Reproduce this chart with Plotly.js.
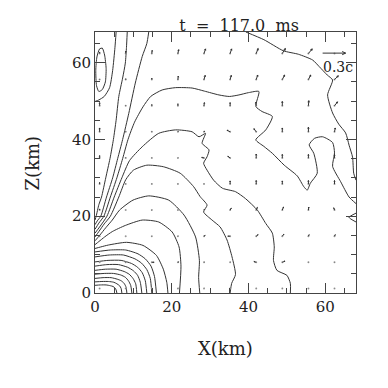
<!DOCTYPE html>
<html>
<head>
<meta charset="utf-8">
<script src="https://cdn.plot.ly/plotly-3.0.1.min.js"></script>
<style>
html, body { margin: 0; padding: 0; background: #fff; }
#chart { width: 388px; height: 388px; }
</style>
</head>
<body>
<div id="chart"></div>
<script>
// contour lines, [x km], [z km]
const arc1 = [[0, 1.4, 2.9, 4.0, 4.7, 5.2, 5.5, 5.7], [2.0, 2.1, 2.1, 1.9, 1.7, 1.3, 0.8, 0]];
const arc2 = [[0, 1.8, 3.5, 4.9, 5.7, 6.4, 6.8, 7.0], [2.9, 3.0, 3.0, 2.8, 2.4, 1.9, 1.2, 0]];
const arc3 = [[0, 2.1, 4.2, 5.8, 6.8, 7.6, 8.1, 8.3], [3.8, 4.0, 4.0, 3.6, 3.2, 2.5, 1.5, 0]];
const arc4 = [[0, 2.4, 4.8, 6.7, 7.9, 8.7, 9.3, 9.6], [4.9, 5.1, 5.1, 4.7, 4.1, 3.2, 2.0, 0]];
const arc5 = [[0, 2.7, 5.5, 7.6, 8.9, 9.9, 10.6, 10.9], [5.9, 6.2, 6.2, 5.6, 4.9, 3.8, 2.4, 0]];
const arc6 = [[0, 3.1, 6.1, 8.5, 10.0, 11.1, 11.8, 12.2], [7.0, 7.4, 7.4, 6.7, 5.8, 4.6, 2.8, 0]];
const arc7 = [[0, 3.4, 6.8, 9.5, 11.1, 12.3, 13.1, 13.5], [8.1, 8.5, 8.5, 7.7, 6.7, 5.3, 3.2, 0]];
const arc8 = [[0, 3.7, 7.4, 10.4, 12.1, 13.5, 14.4, 14.8], [9.4, 9.9, 9.9, 8.9, 7.8, 6.1, 3.8, 0]];
const arc9 = [[0, 4.0, 8.0, 11.2, 13.1, 14.6, 15.5, 16.0], [10.7, 11.2, 11.2, 10.2, 8.9, 7.0, 4.3, 0]];
const arc10 = [[0, 1.5, 3.5, 8.2, 12.5, 16.0, 17.8, 18.7, 19.0], [11.6, 12.0, 12.5, 13.2, 12.4, 9.8, 6.2, 2.8, 0]];
const arc11 = [[0, 1.0, 2.5, 4.5, 7.9, 12.3, 16.6, 20.1, 21.9, 22.4, 22.0],
               [12.6, 13.4, 14.6, 16.0, 17.6, 19.0, 18.5, 15.9, 12.0, 7.0, 0]];
const arc12 = [[0, 1.2, 2.8, 4.5, 6.4, 9.9, 14.0, 19.2, 23.2, 26.2, 27.2, 27.0, 27.3],
               [13.6, 15.0, 17.0, 19.0, 21.6, 24.2, 25.3, 24.2, 20.3, 14.6, 8.5, 4.0, 0]];
const arc13 = [[0, 1.0, 2.4, 4.0, 6.2, 8.0, 10.0, 13.5, 17.8, 22.2, 25.7, 27.4, 29.2, 28.3, 30.5, 32.6, 34.4, 35.7, 36.6, 35.6, 35.2],
               [14.6, 16.0, 18.0, 20.0, 25.0, 29.5, 32.0, 33.3, 32.9, 31.2, 27.7, 25.1, 22.9, 21.1, 19.0, 17.2, 13.8, 9.4, 4.8, 2.5, 0]];
const arc14 = [[0, 1.2, 3.1, 5.0, 7.0, 9.0, 12.3, 16.6, 21.0, 25.3, 27.1, 28.8, 27.9, 29.7, 29.2, 28.3, 29.2, 30.9, 33.2, 36.6, 39.2, 42.3, 44.5, 46.2, 46.7, 46.5, 47.4, 50.0, 50.9, 50.9],
               [15.6, 17.2, 20.0, 25.0, 30.0, 34.5, 38.1, 41.6, 42.5, 42.0, 40.7, 41.6, 39.0, 37.3, 35.5, 33.8, 32.0, 29.4, 27.3, 26.4, 24.6, 21.6, 18.1, 15.6, 12.0, 8.5, 5.9, 4.6, 2.5, 0]];
const plateau = [[0, 1.0, 2.3, 4.0, 5.7, 7.2, 8.6, 10.3, 12.5, 14.5, 17.5, 21.0, 25.3, 28.5, 32.3, 35.0, 37.5, 40.0, 42.7, 41.9, 43.5, 46.2, 44.5, 41.9, 44.0, 46.2, 49.3, 52.7, 54.4, 55.3, 56.1, 57.9, 57.0, 55.8, 57.2, 59.3, 61.9, 62.4, 61.9, 64.0, 66.2, 68.0],
                 [16.6, 18.2, 20.0, 25.0, 30.0, 35.0, 40.0, 44.5, 48.5, 51.2, 52.9, 53.5, 53.4, 52.6, 51.6, 51.2, 51.6, 52.2, 52.5, 48.6, 47.3, 46.0, 42.5, 39.9, 38.2, 36.4, 33.3, 30.5, 27.7, 26.8, 28.6, 31.2, 36.4, 38.6, 40.3, 40.7, 39.2, 36.5, 33.0, 29.0, 25.0, 23.3]];
const top14 = [[0, 0.6, 1.5, 3.0, 4.6, 5.9, 7.2, 8.8, 10.5, 12.3, 13.5, 14.0],
               [17.8, 18.8, 20.0, 25.0, 30.0, 35.0, 40.0, 46.8, 54.7, 61.6, 65.0, 68.0]];
const top8 = [[0, 0.3, 1.0, 1.7, 2.8, 3.9, 4.8, 5.5, 6.2, 7.2, 7.9, 8.2, 8.4],
              [19.0, 20.0, 23.0, 25.0, 30.0, 35.0, 40.0, 45.0, 51.2, 56.0, 59.9, 64.0, 68.0]];
const wrap = [[5.5, 5.2, 4.6, 3.8, 2.4, 1.0, 0], [68.0, 64.0, 58.0, 53.5, 51.2, 50.3, 49.9]];
const loop = [[0.2, 0.5, 1.2, 1.9, 2.5, 2.9, 2.7, 1.9, 1.0, 0.4, 0.2], [58.0, 61.5, 63.6, 63.8, 62.0, 58.5, 55.0, 53.0, 52.5, 54.0, 58.0]];
const outer = [[39.3, 44.0, 49.1, 53.0, 56.7, 58.4, 60.5, 61.9, 60.6, 61.9, 63.5, 65.3, 66.2, 67.1, 67.4, 68.0],
               [68.0, 66.0, 63.1, 62.2, 60.7, 59.0, 56.8, 55.5, 51.6, 46.9, 44.0, 41.7, 38.5, 35.4, 31.2, 29.4]];
const wedge = [[68.0, 66.2, 68.0], [20.8, 19.7, 18.5]];

const contourLines = [arc1, arc2, arc3, arc4, arc5, arc6, arc7, arc8, arc9, arc10, arc11, arc12,
                      arc13, arc14, plateau, top14, top8, wrap, loop, outer, wedge];

// velocity field, grid in km, velocities in units of c, rows from bottom to top
const gridX = [1.2, 8.0, 14.8, 21.6, 28.4, 35.2, 42.0, 48.8, 55.6, 62.4];
const gridZ = [1.2, 8.0, 14.8, 21.6, 28.4, 35.2, 42.0, 48.8, 55.6, 62.4];
const velX = [
    [0.003, 0.003, 0.002, 0.003, 0.002, 0.003, 0.002, 0.003, 0.002, 0.002],
    [0, 0.005, 0.03, 0.01, 0.005, 0.003, -0.03, 0.035, 0.003, 0.003],
    [0, 0, 0.002, 0.003, 0.015, -0.03, 0.025, 0.02, 0.01, 0.01],
    [0, 0, 0.003, 0.003, 0.01, 0.015, 0.015, 0.015, 0.005, -0.01],
    [0, 0, 0, 0, 0, 0, 0, 0, 0, 0],
    [0, 0, 0, 0.003, -0.03, -0.03, 0, 0, 0, 0],
    [0, 0, 0, 0.005, 0.01, -0.04, -0.03, 0, 0, 0.01],
    [0, 0, 0, 0, 0.005, 0, -0.005, 0, 0.005, 0.04],
    [0, 0, 0, 0.005, 0.015, 0.015, 0.02, 0.03, 0.03, 0.05],
    [0, 0, 0.005, 0.01, 0.02, 0.02, 0.025, 0.04, 0.05, 0]
];
const velZ = [
    [0.002, 0.002, 0.002, 0.002, 0.002, 0.002, 0.002, 0.002, 0.002, 0.002],
    [0.002, 0, 0, 0.005, 0.002, 0.002, 0.01, 0.015, 0.002, 0.002],
    [0.005, 0.002, 0.002, 0.002, 0.01, 0, 0.02, 0.025, 0.02, 0.02],
    [0.015, 0.002, 0.003, 0.002, 0.01, 0.025, 0.035, 0.04, 0.04, 0.03],
    [0.02, 0.003, 0.003, 0.003, 0.003, 0.04, 0.045, 0.04, 0.045, 0.045],
    [0.03, 0.005, 0.003, 0.003, 0.005, 0.02, 0.05, 0.045, 0.045, 0.045],
    [0.05, 0.005, 0.005, 0.005, 0.01, 0.02, 0.04, 0.05, 0.06, 0.05],
    [0.04, 0.005, 0.015, 0.025, 0.04, 0.04, 0.045, 0.055, 0.065, 0.05],
    [0.005, 0.01, 0.02, 0.045, 0.055, 0.055, 0.06, 0.06, 0.06, 0.05],
    [0.02, 0.03, 0.04, 0.05, 0.06, 0.06, 0.065, 0.065, 0.06, 0]
];
const refSpeed = 0.3;
const refLabel = '0.3c';
const refTail = [59.3, 62.5];
const KM_PER_C = 20;

const SERIF = 'DejaVu Serif';
const INK = '#333';

function arrowPath(x0, z0, vx, vz, xs, zs) {
    const dx = vx * KM_PER_C, dz = vz * KM_PER_C;
    const len = Math.hypot(dx, dz);
    if (len < 0.05) return;
    const x1 = x0 + dx, z1 = z0 + dz;
    const hl = Math.min(0.35 * len, 1.0);
    const ux = -dx / len, uz = -dz / len;
    const a = 25 * Math.PI / 180;
    const c = Math.cos(a), s = Math.sin(a);
    xs.push(x0, x1, null, x1 + hl * (ux * c - uz * s), x1, x1 + hl * (ux * c + uz * s), null);
    zs.push(z0, z1, null, z1 + hl * (ux * s + uz * c), z1, z1 + hl * (-ux * s + uz * c), null);
}

const traces = contourLines.map(l => ({
    x: l[0], y: l[1], type: 'scatter', mode: 'lines',
    line: { color: INK, width: 1, shape: 'spline', smoothing: 0.6 },
    hoverinfo: 'skip', showlegend: false
}));

const ax = [], az = [], dotX = [], dotZ = [];
gridZ.forEach((z, j) => gridX.forEach((x, i) => {
    dotX.push(x); dotZ.push(z);
    arrowPath(x, z, velX[j][i], velZ[j][i], ax, az);
}));
arrowPath(refTail[0], refTail[1], refSpeed, 0, ax, az);

traces.push({
    x: dotX, y: dotZ, type: 'scatter', mode: 'markers',
    marker: { size: 2, color: '#999' }, hoverinfo: 'skip', showlegend: false
});
traces.push({
    x: ax, y: az, type: 'scatter', mode: 'lines',
    line: { color: INK, width: 1 }, hoverinfo: 'skip', showlegend: false
});

const axisBase = {
    range: [0, 68], dtick: 20, tick0: 0,
    ticks: 'inside', ticklen: 10, tickwidth: 1, tickcolor: '#444',
    minor: { dtick: 5, ticks: 'inside', ticklen: 5, tickwidth: 1, tickcolor: '#444' },
    showline: true, linecolor: '#444', linewidth: 1, mirror: 'ticks',
    showgrid: false, zeroline: false,
    tickfont: { family: SERIF, size: 15, color: '#222' }
};

const layout = {
    width: 388, height: 388,
    margin: { l: 95, r: 32, t: 32, b: 95 },
    paper_bgcolor: '#fff', plot_bgcolor: '#fff',
    title: {
        text: 't\u00a0\u00a0=\u00a0\u00a0117.0\u00a0\u00a0ms',
        font: { family: SERIF, size: 16, color: '#222' },
        x: 0.552, xref: 'paper', xanchor: 'center',
        y: 1, yref: 'paper', yanchor: 'bottom', pad: { b: 1 }
    },
    xaxis: Object.assign({}, axisBase),
    yaxis: Object.assign({}, axisBase),
    annotations: [
        { text: refLabel, x: 63.2, y: 58.9, xref: 'x', yref: 'y', showarrow: false,
          font: { family: SERIF, size: 14, color: '#222' } },
        { text: 'X(km)', x: 0.5, y: -0.212, xref: 'paper', yref: 'paper', showarrow: false,
          xanchor: 'center', yanchor: 'middle', font: { family: SERIF, size: 18, color: '#222' } },
        { text: 'Z(km)', x: -0.238, y: 0.5, xref: 'paper', yref: 'paper', showarrow: false,
          textangle: -90, xanchor: 'center', yanchor: 'middle', font: { family: SERIF, size: 18, color: '#222' } }
    ]
};

Plotly.newPlot('chart', traces, layout, { staticPlot: true });
</script>
</body>
</html>
